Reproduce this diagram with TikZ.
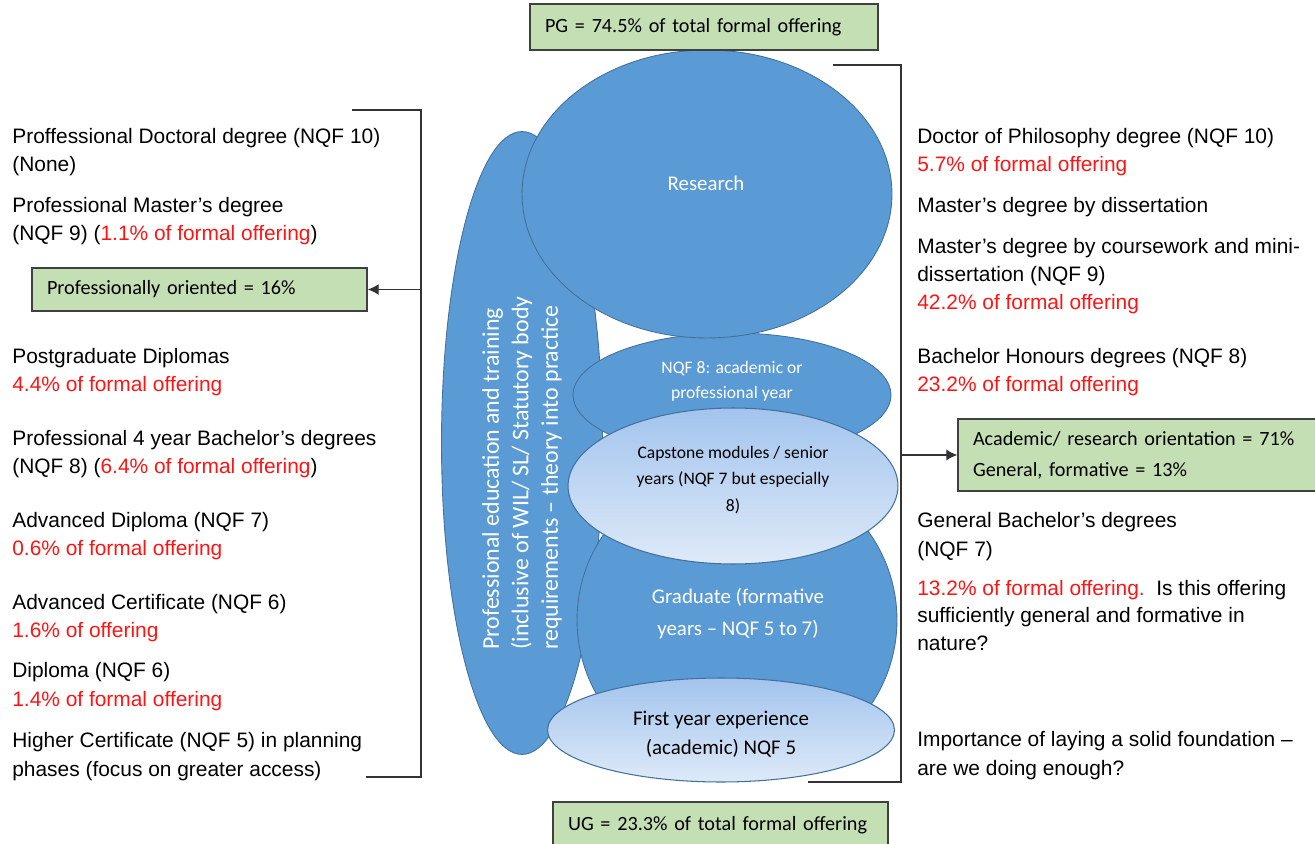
\documentclass[tikz,border=0pt]{standalone}
\usepackage{fontspec}
\setmainfont{Liberation Sans}
\newfontfamily\calibfont[Ligatures=TeX]{Carlito}
\usetikzlibrary{shapes.geometric, arrows.meta}

\definecolor{boxgreen}{RGB}{196,223,180}
\definecolor{ovalblue}{RGB}{91,155,213}
\definecolor{ovalline}{RGB}{65,113,156}
\definecolor{paletop}{RGB}{163,196,238}
\definecolor{palebot}{RGB}{222,234,248}
\definecolor{offred}{RGB}{255,20,20}

\newcommand{\pct}[1]{\textcolor{offred}{#1}}

\begin{document}
\begin{tikzpicture}[> = {Latex[length=2.2mm, width=2.2mm]}, x=0.02cm, y=-0.02cm,
    darkoval/.style={ellipse, draw=ovalline, fill=ovalblue, line width=0.5pt, inner sep=0pt},
    paleoval/.style={ellipse, draw=ovalline, line width=0.6pt, top color=paletop, bottom color=palebot, inner sep=0pt},
    ovaltext/.style={align=center, font=\calibfont\fontsize{11.9}{16.5}\selectfont},
    greenbox/.style={draw=black!75, fill=boxgreen, line width=0.8pt, align=left, inner xsep=0.3cm,
        font=\calibfont\fontsize{11.5}{17.6}\selectfont, execute at begin node={\hyphenpenalty=10000\relax}},
    sidetext/.style={anchor=base west, align=left, inner sep=0pt, font=\fontsize{11.9}{16.2}\selectfont},
    bracket/.style={draw=black!80, line width=0.7pt}
]

    \useasboundingbox (0,0) rectangle (1315,844);

    % Professional education column (behind the stack)
    \node[darkoval, minimum width=3.22cm, minimum height=12.46cm] (profoval) at (522,443) {};
    \node[rotate=90, align=left, text=white, font=\calibfont\fontsize{13.6}{16.8}\selectfont] (proftext) at (522,473)
        {Professional education and training\\(inclusive of WIL/ SL/ Statutory body\\requirements -- theory into practice};

    % Stack of levels
    \node[darkoval, minimum width=6.4cm, minimum height=6.2cm] (gradoval) at (737,620) {};
    \node[darkoval, minimum width=6.36cm, minimum height=2.48cm] (nqfoval) at (732,395) {};
    \node[darkoval, minimum width=7.4cm, minimum height=5.76cm] (researchoval) at (707,194) {};
    \node[paleoval, minimum width=6.6cm, minimum height=3.12cm] (capoval) at (733,486) {};
    \node[paleoval, minimum width=6.94cm, minimum height=2.08cm] (firstoval) at (721,730) {};

    \node[ovaltext, text=white] (researchtext) at (706,183) {Research};
    \node[ovaltext, text=white, font=\calibfont\fontsize{10}{14.2}\selectfont] (nqftext) at (732,381) {NQF 8: academic or\\professional year};
    \node[ovaltext, font=\calibfont\fontsize{10}{15.2}\selectfont] (captext) at (733,480) {Capstone modules / senior\\years (NQF 7 but especially\\8)};
    \node[ovaltext, text=white, font=\calibfont\fontsize{11.9}{18.2}\selectfont] (gradtext) at (738,614) {Graduate (formative\\years -- NQF 5 to 7)};
    \node[ovaltext] (firsttext) at (721,734) {First year experience\\(academic) NQF 5};

    % Share boxes
    \node[greenbox, text width=6.36cm, minimum height=0.92cm] (pgbox) at (704,27) {PG = 74.5\% of total formal offering};
    \node[greenbox, text width=6.1cm, minimum height=0.92cm] (ugbox) at (720.5,825) {UG = 23.3\% of total formal offering};
    \node[greenbox, text width=6.1cm, minimum height=0.86cm] (profbox) at (199.5,289.5) {Professionally oriented = 16\%};
    \node[greenbox, text width=7cm, minimum height=1.44cm] (acadbox) at (1148,455) {Academic/ research orientation = 71\%\\General, formative = 13\%};

    % Brackets
    \coordinate (ltop) at (421,110);
    \coordinate (lbot) at (421,777);
    \draw[bracket] (352,110) -- (ltop) -- (lbot) -- (366,777);
    \draw[bracket, ->] (profbox.east -| ltop) -- (profbox.east);

    \coordinate (rtop) at (901,65);
    \coordinate (rbot) at (901,782);
    \draw[bracket] (833,65) -- (rtop) -- (rbot) -- (808,782);
    \draw[bracket, ->] (acadbox.west -| rtop) -- (acadbox.west);

    % Professional qualifications (placed at the baseline of the last line)
    \node[sidetext] (profphd) at (12,171.5) {Proffessional Doctoral degree (NQF 10)\\(None)};
    \node[sidetext] (profmast) at (12,240.5) {Professional Master's degree\\(NQF 9) (\pct{1.1\% of formal offering})};
    \node[sidetext] (pgdip) at (12,391.5) {Postgraduate Diplomas\\\pct{4.4\% of formal offering}};
    \node[sidetext] (profbach) at (12,473.5) {Professional 4 year Bachelor's degrees\\(NQF 8) (\pct{6.4\% of formal offering})};
    \node[sidetext] (advdip) at (12,555.5) {Advanced Diploma (NQF 7)\\\pct{0.6\% of formal offering}};
    \node[sidetext] (advcert) at (12,637.5) {Advanced Certificate (NQF 6)\\\pct{1.6\% of offering}};
    \node[sidetext] (diploma) at (12,706) {Diploma (NQF 6)\\\pct{1.4\% of formal offering}};
    \node[sidetext] (highcert) at (12,776) {Higher Certificate (NQF 5) in planning\\phases (focus on greater access)};

    % Academic qualifications
    \node[sidetext] (phd) at (917,172) {Doctor of Philosophy degree (NQF 10)\\\pct{5.7\% of formal offering}};
    \node[sidetext] (mastdiss) at (917,213) {Master's degree by dissertation};
    \node[sidetext] (mastcourse) at (917,310) {Master's degree by coursework and mini-\\dissertation (NQF 9)\\\pct{42.2\% of formal offering}};
    \node[sidetext] (honours) at (917,392) {Bachelor Honours degrees (NQF 8)\\\pct{23.2\% of formal offering}};
    \node[sidetext] (genbach) at (917,556) {General Bachelor's degrees\\(NQF 7)};
    \node[sidetext, font=\fontsize{11.9}{15.4}\selectfont] (genquery) at (917,650) {\pct{13.2\% of formal offering.}\ \ Is this offering\\sufficiently general and formative in\\nature?};
    \node[sidetext] (foundation) at (917,775) {Importance of laying a solid foundation --\\are we doing enough?};

\end{tikzpicture}
\end{document}
